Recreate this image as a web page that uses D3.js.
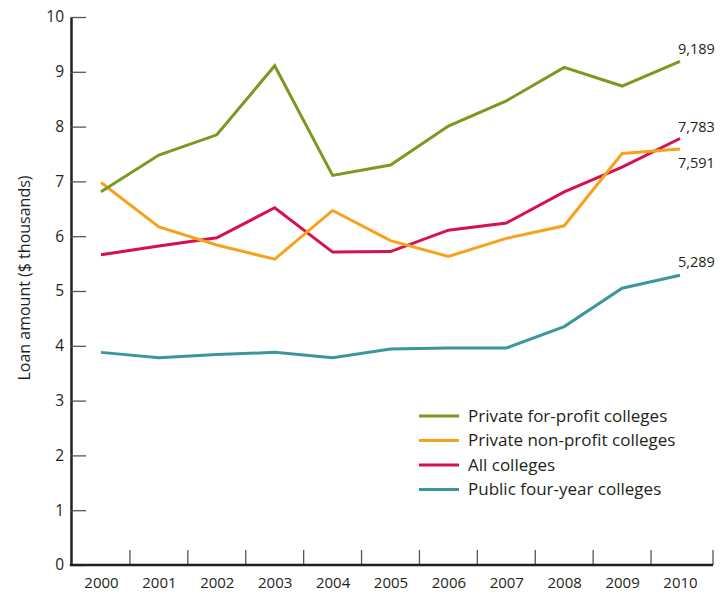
<!DOCTYPE html>
<html>
<head>
<meta charset="utf-8">
<script src="https://cdn.jsdelivr.net/npm/d3@7"></script>
<style>
  body { margin: 0; background: #fff; }
  text { font-family: "Open Sans", sans-serif; fill: #231f20; }
</style>
</head>
<body>
<script>
// data ($ thousands)
const years = [2000, 2001, 2002, 2003, 2004, 2005, 2006, 2007, 2008, 2009, 2010];
const forProfit = [6.81, 7.48, 7.85, 9.11, 7.11, 7.30, 8.01, 8.47, 9.08, 8.74, 9.189];
const nonProfit = [6.98, 6.17, 5.84, 5.58, 6.47, 5.92, 5.63, 5.96, 6.19, 7.51, 7.591];
const allColleges = [5.66, 5.82, 5.97, 6.52, 5.71, 5.72, 6.11, 6.24, 6.81, 7.26, 7.783];
const publicFour = [3.88, 3.78, 3.84, 3.88, 3.78, 3.94, 3.96, 3.96, 4.35, 5.05, 5.289];
const yTicks = [0, 1, 2, 3, 4, 5, 6, 7, 8, 9, 10];

const series = [
    { name: "Private for-profit colleges", values: forProfit, color: "#7b991f", label: "9,189", dy: -7 },
    { name: "Private non-profit colleges", values: nonProfit, color: "#f7a21d", label: "7,591", dy: 19 },
    { name: "All colleges", values: allColleges, color: "#d6114b", label: "7,783", dy: -6 },
    { name: "Public four-year colleges", values: publicFour, color: "#3a979e", label: "5,289", dy: -8 }
];

const width = 725, height = 593;
const axisLeftX = 71, axisBottomY = 565, axisEndX = 713;

const svg = d3.select("body").append("svg")
    .attr("width", width)
    .attr("height", height);

const x = d3.scalePoint()
    .domain(years)
    .range([101, 680]);

const y = d3.scaleLinear()
    .domain([0, 10])
    .range([axisBottomY, 17]);

// y axis, ticks pointing into the plot
const yAxis = svg.append("g")
    .attr("transform", "translate(" + axisLeftX + ",0)")
    .call(d3.axisLeft(y).tickValues(yTicks).tickSizeInner(-15).tickSizeOuter(0).tickPadding(7));
yAxis.select(".domain").attr("stroke", "#231f20").attr("stroke-width", 2.5);
yAxis.selectAll(".tick line").attr("stroke", "#555").attr("stroke-width", 1.3);
yAxis.selectAll(".tick text").attr("font-size", 15.5).style("fill", "#231f20");

// x axis
const xAxis = svg.append("g")
    .attr("transform", "translate(0," + axisBottomY + ")")
    .call(d3.axisBottom(x).tickSize(0).tickPadding(12));
xAxis.select(".domain").remove();
xAxis.selectAll(".tick text").attr("font-size", 15).style("fill", "#231f20");

const step = x.step();
const xTickPos = years.map(function(d, i) {
    return i < years.length - 1 ? x(d) + step / 2 : axisEndX;
});
svg.append("g").selectAll("line")
    .data(xTickPos)
    .join("line")
    .attr("x1", d => d).attr("x2", d => d)
    .attr("y1", axisBottomY).attr("y2", axisBottomY - 15)
    .attr("stroke", "#555")
    .attr("stroke-width", 1.3);

svg.append("line")
    .attr("x1", axisLeftX - 1.25).attr("x2", axisEndX)
    .attr("y1", axisBottomY).attr("y2", axisBottomY)
    .attr("stroke", "#231f20")
    .attr("stroke-width", 2.5);

// y axis title
svg.append("text")
    .attr("transform", "translate(30,278) rotate(-90)")
    .attr("text-anchor", "middle")
    .attr("font-size", 16)
    .text("Loan amount ($ thousands)");

// lines, drawn bottom to top
const line = d3.line()
    .x((d, i) => x(years[i]))
    .y(d => y(d));

const drawOrder = [3, 2, 1, 0];
drawOrder.forEach(function(k) {
    const s = series[k];
    svg.append("path")
        .datum(s.values)
        .attr("fill", "none")
        .attr("stroke", s.color)
        .attr("stroke-width", 3)
        .attr("stroke-linejoin", "miter")
        .attr("d", line);
});

// end labels
series.forEach(function(s) {
    const last = s.values.length - 1;
    svg.append("text")
        .attr("x", x(years[last]) - 2)
        .attr("y", y(s.values[last]) + s.dy)
        .attr("font-size", 14.5)
        .text(s.label);
});

// legend
const legend = svg.append("g")
    .attr("transform", "translate(419,416)");
series.forEach(function(s, i) {
    const row = legend.append("g").attr("transform", "translate(0," + (i * 24.5) + ")");
    row.append("line")
        .attr("x1", 0).attr("x2", 40)
        .attr("stroke", s.color)
        .attr("stroke-width", 3);
    row.append("text")
        .attr("x", 49)
        .attr("dy", "0.35em")
        .attr("font-size", 17)
        .text(s.name);
});
</script>
</body>
</html>
